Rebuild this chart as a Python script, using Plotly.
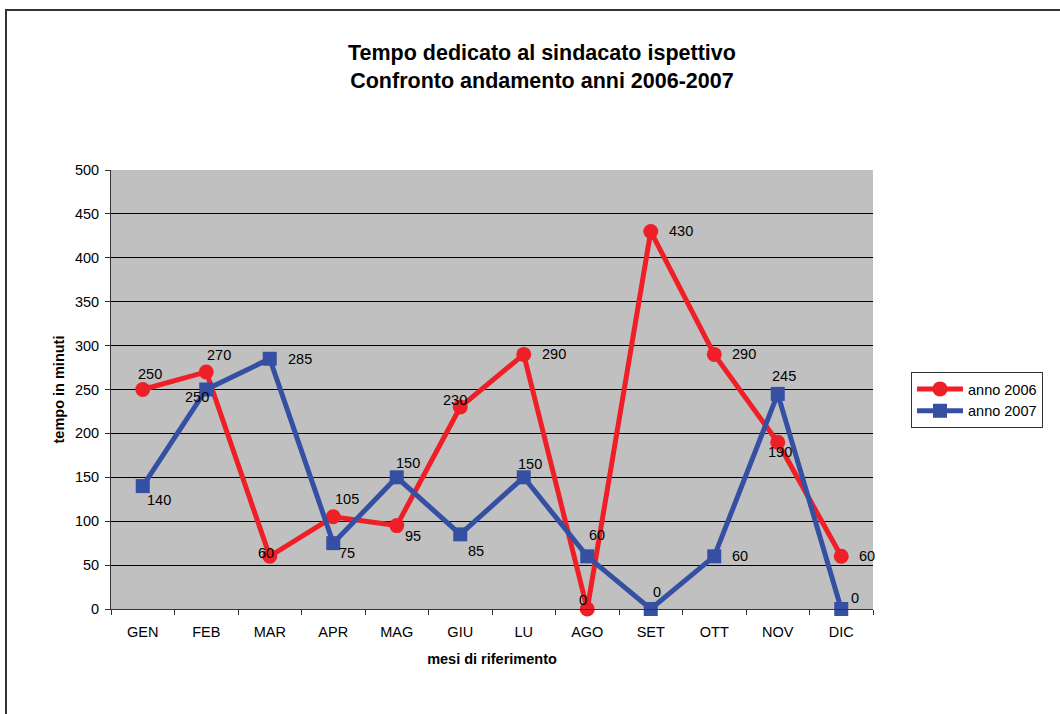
import plotly.graph_objects as go

# Months and minutes spent per month
mesi = ["GEN", "FEB", "MAR", "APR", "MAG", "GIU", "LU", "AGO", "SET", "OTT", "NOV", "DIC"]
anno_2006 = [250, 270, 60, 105, 95, 230, 290, 0, 430, 290, 190, 60]
anno_2007 = [140, 250, 285, 75, 150, 85, 150, 60, 0, 60, 245, 0]
y_ticks = [0, 50, 100, 150, 200, 250, 300, 350, 400, 450, 500]

RED = "#EE1F26"
BLUE = "#3550A2"
FONT = "Liberation Sans, Arial, sans-serif"
FS = 14.5

# Label placement per point: (dx, dy, anchor) in screen pixels, dy downward
off_2006 = [(7, -16, "c"), (13, -17, "c"), (-4, -3, "c"), (14, -18, "c"), (16, 10, "c"),
            (-5, -7, "c"), (16, 0, "l"), (-4, -9, "c"), (16, 0, "l"), (16, 0, "l"),
            (2, 10, "c"), (16, 0, "l")]
off_2007 = [(16, 14, "c"), (-9, 7, "c"), (16, 0, "l"), (14, 10, "c"), (11, -14, "c"),
            (16, 17, "c"), (6, -13, "c"), (10, -21, "c"), (6, -17, "c"), (16, 0, "l"),
            (6, -18, "c"), (14, -11, "c")]

fig = go.Figure()
fig.add_trace(go.Scatter(
    x=mesi, y=anno_2006, name="anno 2006", mode="lines+markers",
    line=dict(color=RED, width=5),
    marker=dict(symbol="circle", size=15, color=RED),
    cliponaxis=False,
))
fig.add_trace(go.Scatter(
    x=mesi, y=anno_2007, name="anno 2007", mode="lines+markers",
    line=dict(color=BLUE, width=5),
    marker=dict(symbol="square", size=14, color=BLUE),
    cliponaxis=False,
))

annotations = []
for values, offsets in ((anno_2006, off_2006), (anno_2007, off_2007)):
    for m, v, (dx, dy, anc) in zip(mesi, values, offsets):
        annotations.append(dict(
            x=m, y=v, xref="x", yref="y", text=str(v), showarrow=False,
            xanchor="left" if anc == "l" else "center", yanchor="middle",
            xshift=dx, yshift=-dy,
            font=dict(family=FONT, size=FS, color="#000000"),
        ))

annotations.append(dict(
    text="<b>Tempo dedicato al sindacato ispettivo<br>Confronto andamento anni 2006-2007</b>",
    x=0.566, y=(609 - 67) / 439, xref="paper", yref="paper",
    xanchor="center", yanchor="middle", showarrow=False, align="center",
    font=dict(family=FONT, size=21.5, color="#000000"),
))

fig.update_layout(
    width=1060, height=714,
    margin=dict(l=111, r=187, t=170, b=105),
    paper_bgcolor="#FFFFFF",
    plot_bgcolor="#C0C0C0",
    font=dict(family=FONT, size=FS, color="#000000"),
    showlegend=True,
    legend=dict(
        x=(911 - 111) / 762, y=(609 - 372) / 439, xanchor="left", yanchor="top",
        bordercolor="#333333", borderwidth=1, bgcolor="#FFFFFF",
        font=dict(family=FONT, size=FS, color="#000000"),
        tracegroupgap=0, itemwidth=46,
    ),
    annotations=annotations,
    shapes=[dict(
        type="rect", xref="paper", yref="paper",
        x0=(6 - 111) / 762, x1=1.6, y0=-0.5, y1=(609 - 10) / 439,
        line=dict(color="#333333", width=2), layer="below",
    )],
)

fig.update_xaxes(
    type="category", range=[-0.5, 11.5],
    showline=True, linecolor="#333333", linewidth=1, mirror=False,
    ticks="outside", tickson="boundaries", ticklen=5, tickcolor="#333333",
    ticklabelstandoff=10,
    showgrid=False, zeroline=False,
    tickfont=dict(family=FONT, size=FS),
    title=dict(text="<b>mesi di riferimento</b>", font=dict(family=FONT, size=FS), standoff=14),
)
fig.update_yaxes(
    range=[0, 500], tickvals=y_ticks,
    showline=True, linecolor="#333333", linewidth=1,
    ticks="outside", ticklen=5, tickcolor="#333333",
    ticklabelstandoff=3,
    showgrid=True, gridcolor="#000000", gridwidth=1, zeroline=False,
    tickfont=dict(family=FONT, size=FS),
    title=dict(text="<b>tempo in minuti</b>", font=dict(family=FONT, size=FS), standoff=6),
)

fig.write_html("out.html")
